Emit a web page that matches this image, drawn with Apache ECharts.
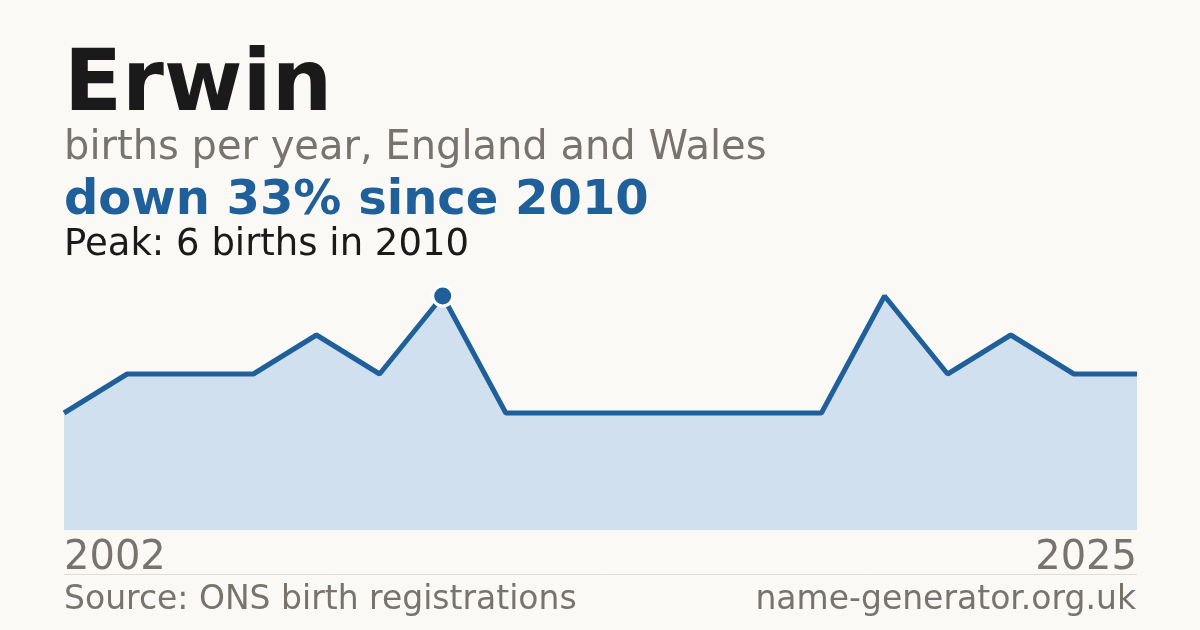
<!DOCTYPE html>
<html>
<head>
<meta charset="utf-8">
<script src="https://cdn.jsdelivr.net/npm/echarts@6/dist/echarts.min.js"></script>
<style>
  html, body { margin: 0; padding: 0; background: #faf9f5; }
  #chart-container { width: 1200px; height: 630px; }
</style>
</head>
<body>
<div id="chart-container"></div>
<script>
var dom = document.getElementById("chart-container");
var myChart = echarts.init(dom, null, { renderer: "canvas" });

// years with registrations (gaps are years with too few births)
var years = [2002, 2003, 2004, 2006, 2007, 2009, 2010, 2011, 2012, 2013, 2015, 2016, 2018, 2019, 2020, 2022, 2023, 2025];
var births = [3, 4, 4, 4, 5, 4, 6, 3, 3, 3, 3, 3, 3, 6, 4, 5, 4, 4];
var peakYear = 2010;
var peakValue = 6;

var font = "'DejaVu Sans', sans-serif";
var blue = "#20609a";
var grey = "#78746d";

var option = {
  backgroundColor: "#faf9f5",
  animation: false,
  grid: { left: 64, right: 63, top: 296, bottom: 100 },
  xAxis: {
    type: "category",
    data: years,
    boundaryGap: false,
    axisLine: { show: false },
    axisTick: { show: false },
    axisLabel: {
      interval: function (i) { return i === 0 || i === years.length - 1; },
      color: grey,
      fontFamily: font,
      fontSize: 40,
      margin: 9,
      alignMinLabel: "left",
      alignMaxLabel: "right",
    },
  },
  yAxis: {
    type: "value",
    min: 0,
    max: peakValue,
    show: false,
  },
  graphic: [
    { type: "text", left: 64, top: 45, style: { text: "Erwin", font: "bold 85px " + font, fill: "#1a1a1a" } },
    { type: "text", left: 64, top: 129, style: { text: "births per year, England and Wales", font: "40px " + font, fill: grey } },
    { type: "text", left: 64, top: 178, style: { text: "down 33% since 2010", font: "bold 48px " + font, fill: blue } },
    { type: "text", left: 64, top: 227, style: { text: "Peak: 6 births in 2010", font: "37px " + font, fill: "#1a1a1a" } },
    { type: "line", shape: { x1: 64, y1: 574.5, x2: 1137, y2: 574.5 }, style: { stroke: "#e2ded6", lineWidth: 1 } },
    { type: "text", left: 64, top: 584, style: { text: "Source: ONS birth registrations", font: "33px " + font, fill: grey } },
    { type: "text", right: 64, top: 584, style: { text: "name-generator.org.uk", font: "33px " + font, fill: grey } },
  ],
  series: [
    {
      type: "line",
      data: births,
      symbol: "none",
      lineStyle: { color: blue, width: 5 },
      areaStyle: { color: "#d0e0ef", opacity: 1 },
      markPoint: {
        symbol: "circle",
        symbolSize: 20,
        itemStyle: { color: blue, borderColor: "#ffffff", borderWidth: 3 },
        label: { show: false },
        data: [{ coord: [years.indexOf(peakYear), peakValue] }],
      },
    },
  ],
};

myChart.setOption(option);
window.addEventListener("resize", myChart.resize);
</script>
</body>
</html>
